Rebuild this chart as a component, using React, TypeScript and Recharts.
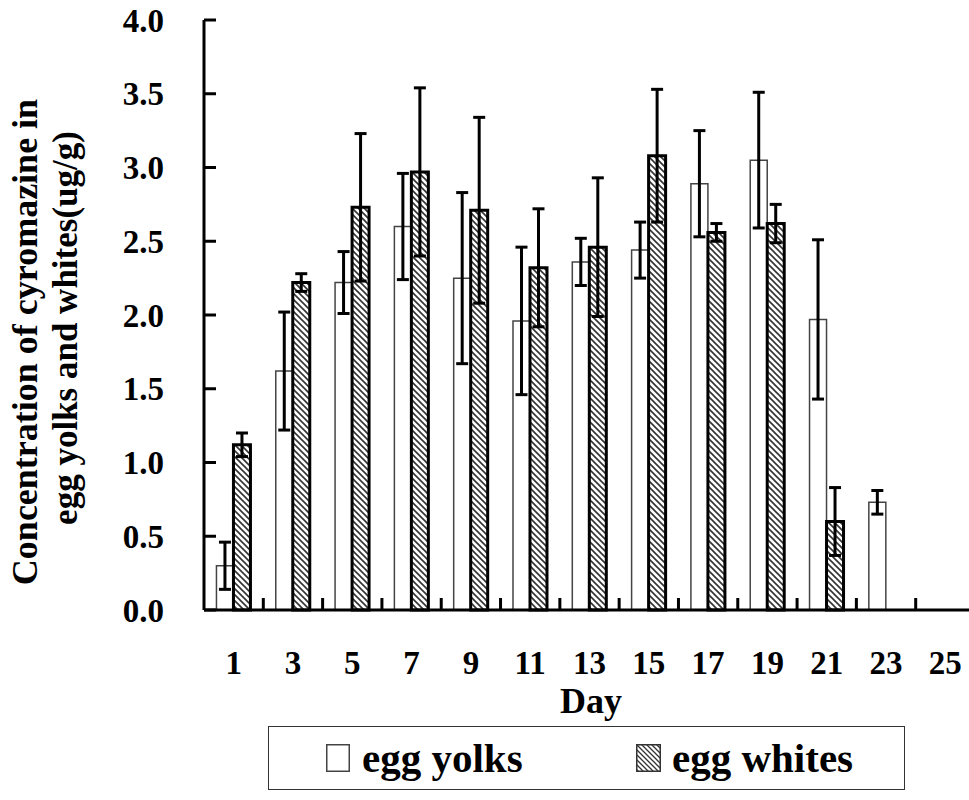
import React from 'react';
import { BarChart, Bar, XAxis, YAxis, ErrorBar, Legend } from 'recharts';

const days = ['1', '3', '5', '7', '9', '11', '13', '15', '17', '19', '21', '23', '25'];
const yolkMeans = [0.30, 1.62, 2.22, 2.60, 2.25, 1.96, 2.36, 2.44, 2.89, 3.05, 1.97, 0.73, null];
const yolkErrors = [0.16, 0.40, 0.21, 0.36, 0.58, 0.50, 0.16, 0.19, 0.36, 0.46, 0.54, 0.08, null];
const whiteMeans = [1.12, 2.22, 2.73, 2.97, 2.71, 2.32, 2.46, 3.08, 2.56, 2.62, 0.60, null, null];
const whiteErrors = [0.08, 0.06, 0.50, 0.57, 0.63, 0.40, 0.47, 0.45, 0.06, 0.13, 0.23, null, null];
const yTicks = [0, 0.5, 1.0, 1.5, 2.0, 2.5, 3.0, 3.5, 4.0];
const seriesNames = ['egg yolks', 'egg whites'];
const yTitle = ['Concentration of cyromazine in', 'egg yolks and whites(ug/g)'];
const xTitle = 'Day';

const data = days.map((d, i) => ({
  day: d,
  yolk: yolkMeans[i],
  yolkErr: yolkErrors[i],
  white: whiteMeans[i],
  whiteErr: whiteErrors[i],
}));

const FONT = '"Liberation Serif", "Times New Roman", serif';

const YTick = (props: any) => {
  const { x, y, payload } = props;
  const axisX = x + 40;
  return (
    <g>
      <line x1={axisX} y1={y} x2={axisX + 12} y2={y} stroke="#000" strokeWidth={3} />
      <text x={x} y={y} dy="0.35em" textAnchor="end" fontFamily={FONT} fontWeight="bold" fontSize={33} fill="#000">
        {Number(payload.value).toFixed(1)}
      </text>
    </g>
  );
};

const XTick = (props: any) => {
  const { x, y, payload, width, visibleTicksCount } = props;
  const half = payload && payload.offset ? payload.offset : width / (visibleTicksCount || 13) / 2;
  const bx = x + half;
  return (
    <g>
      <line x1={bx} y1={y} x2={bx} y2={y - 12} stroke="#000" strokeWidth={3} />
      <text x={x} y={y + 64} textAnchor="middle" fontFamily={FONT} fontWeight="bold" fontSize={33} fill="#000">
        {payload.value}
      </text>
    </g>
  );
};

const YLabel = () => (
  <g>
    <text x={37} y={342} transform="rotate(-90 37 342)" textAnchor="middle" fontFamily={FONT} fontWeight="bold" fontSize={36} fill="#000">
      {yTitle[0]}
    </text>
    <text x={77} y={328} transform="rotate(-90 77 328)" textAnchor="middle" fontFamily={FONT} fontWeight="bold" fontSize={35} fill="#000">
      {yTitle[1]}
    </text>
  </g>
);

const XLabel = () => (
  <text x={591} y={713} textAnchor="middle" fontFamily={FONT} fontWeight="bold" fontSize={36} fill="#000">
    {xTitle}
  </text>
);

const itemStyle = (left: number): React.CSSProperties => ({
  position: 'absolute',
  left,
  top: 0,
  height: '100%',
  display: 'flex',
  alignItems: 'center',
  whiteSpace: 'nowrap',
});

const LegendContent = () => (
  <div
    style={{
      position: 'relative',
      width: '100%',
      height: '100%',
      boxSizing: 'border-box',
      border: '1.5px solid #333',
      fontFamily: FONT,
      fontWeight: 'bold',
      fontSize: 41,
      lineHeight: '48px',
      color: '#000',
      background: '#fff',
    }}
  >
    <div style={itemStyle(57)}>
      <svg width={24} height={28} style={{ marginRight: 12, display: 'block' }}>
        <rect x={0.75} y={0.75} width={22.5} height={26.5} fill="#fff" stroke="#444" strokeWidth={1.5} />
      </svg>
      <span>{seriesNames[0]}</span>
    </div>
    <div style={itemStyle(367)}>
      <svg width={25} height={28} style={{ marginRight: 11, display: 'block' }}>
        <defs>
          <pattern id="hatchLegend" patternUnits="userSpaceOnUse" width={5} height={5}>
            <path d="M-1,-1 L6,6 M-1,4 L1,6 M4,-1 L6,1" stroke="#333" strokeWidth={1.3} />
          </pattern>
        </defs>
        <rect x={0.75} y={0.75} width={23.5} height={26.5} fill="url(#hatchLegend)" stroke="#333" strokeWidth={1.5} />
      </svg>
      <span>{seriesNames[1]}</span>
    </div>
  </div>
);

export default function App() {
  return (
    <div style={{ position: 'fixed', left: 0, top: 0, width: 969, height: 800, overflow: 'hidden', background: '#fff' }}>
      <BarChart
        width={990}
        height={800}
        data={data}
        margin={{ top: 20, right: 15, left: 0, bottom: 0 }}
        barCategoryGap="21%"
        barGap={0}
      >
        <defs>
          <pattern id="hatch" patternUnits="userSpaceOnUse" width={6} height={6}>
            <rect width={6} height={6} fill="#fff" />
            <path d="M-1,-1 L7,7 M-1,5 L1,7 M5,-1 L7,1" stroke="#333" strokeWidth={1.6} />
          </pattern>
        </defs>
        <XAxis
          dataKey="day"
          type="category"
          height={190}
          axisLine={{ stroke: '#000', strokeWidth: 3 }}
          tickLine={false}
          tickSize={0}
          tickMargin={0}
          interval={0}
          tick={<XTick />}
          label={<XLabel />}
        />
        <YAxis
          type="number"
          domain={[0, 4]}
          ticks={yTicks}
          width={204}
          axisLine={{ stroke: '#000', strokeWidth: 3 }}
          tickLine={false}
          tickSize={0}
          tickMargin={40}
          interval={0}
          tick={<YTick />}
          label={<YLabel />}
        />
        <Legend
          verticalAlign="middle"
          align="center"
          layout="horizontal"
          content={<LegendContent />}
          wrapperStyle={{ left: 268, top: 726, width: 637, height: 64, right: 'auto', bottom: 'auto' }}
        />
        <Bar dataKey="yolk" name={seriesNames[0]} fill="#fff" stroke="#444" strokeWidth={1.5} isAnimationActive={false}>
          <ErrorBar dataKey="yolkErr" direction="y" width={6} stroke="#000" strokeWidth={3} />
        </Bar>
        <Bar dataKey="white" name={seriesNames[1]} fill="url(#hatch)" stroke="#000" strokeWidth={3} isAnimationActive={false}>
          <ErrorBar dataKey="whiteErr" direction="y" width={6} stroke="#000" strokeWidth={3} />
        </Bar>
      </BarChart>
    </div>
  );
}
